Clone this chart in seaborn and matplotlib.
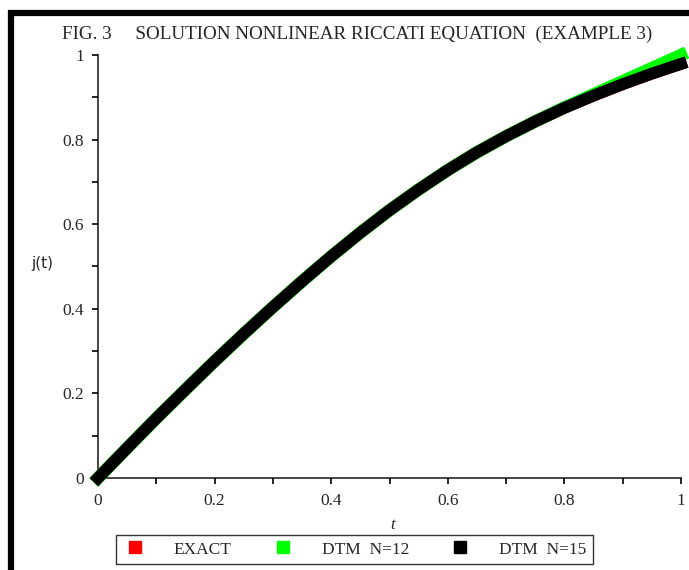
import matplotlib

matplotlib.use("Agg")

import matplotlib.pyplot as plt
import matplotlib.patches as patches
from matplotlib.lines import Line2D
from matplotlib.ticker import MultipleLocator
import seaborn as sns

# values
t = [0.0, 0.05, 0.1, 0.15, 0.2, 0.25, 0.3, 0.35, 0.4, 0.45, 0.5,
     0.55, 0.6, 0.65, 0.7, 0.75, 0.8, 0.85, 0.9, 0.95, 1.0]
exact = [0.0, 0.071, 0.141, 0.209, 0.276, 0.341, 0.404, 0.465, 0.524, 0.58, 0.633,
         0.682, 0.728, 0.77, 0.808, 0.843, 0.875, 0.904, 0.931, 0.956, 0.979]
dtm12 = [0.0, 0.071, 0.141, 0.209, 0.276, 0.341, 0.404, 0.465, 0.524, 0.58, 0.633,
         0.682, 0.728, 0.77, 0.808, 0.843, 0.876, 0.907, 0.938, 0.969, 1.0]
dtm15 = [0.0, 0.071, 0.141, 0.209, 0.276, 0.341, 0.404, 0.465, 0.524, 0.58, 0.633,
         0.682, 0.728, 0.77, 0.808, 0.843, 0.875, 0.904, 0.931, 0.956, 0.979]

labels = ["EXACT", "DTM  N=12", "DTM  N=15"]
colors = ["#ff0000", "#00ff00", "#000000"]

sns.set_style("ticks")
plt.rcParams["font.family"] = ["Liberation Serif", "DejaVu Serif"]

fig = plt.figure(figsize=(6.89, 5.70), dpi=100)
ax = fig.add_axes([98 / 689, 92 / 570, 583 / 689, 423 / 570])

for y, c, lw in zip([exact, dtm12, dtm15], colors, [8.5, 9.0, 8.5]):
    sns.lineplot(x=t, y=y, ax=ax, color=c, linewidth=lw, clip_on=False,
                 solid_capstyle="projecting", solid_joinstyle="round")

ax.set_xlim(0, 1)
ax.set_ylim(0, 1)
for s in ["top", "right"]:
    ax.spines[s].set_visible(False)
for s in ["left", "bottom"]:
    ax.spines[s].set_linewidth(1.2)
    ax.spines[s].set_zorder(0)

ax.xaxis.set_major_locator(MultipleLocator(0.2))
ax.xaxis.set_minor_locator(MultipleLocator(0.1))
ax.yaxis.set_major_locator(MultipleLocator(0.2))
ax.yaxis.set_minor_locator(MultipleLocator(0.1))
ax.tick_params(which="both", direction="out", length=4, width=1.2, color="black")
ax.tick_params(axis="x", which="major", pad=7, labelsize=12.5)
ax.tick_params(axis="y", which="major", pad=6, labelsize=12.5)


def fmt(v, p):
    v = round(v, 3)
    if v == 0:
        return "0"
    if v == 1:
        return "1"
    return f"{v:.1f}"


ax.xaxis.set_major_formatter(fmt)
ax.yaxis.set_major_formatter(fmt)

ax.set_xlabel("t", fontsize=12, style="italic")
ax.xaxis.set_label_coords(0.505, -0.092)
ax.set_ylabel("j(t)", fontsize=11, rotation=0, family="DejaVu Sans")
ax.yaxis.set_label_coords(-0.096, 0.49)

fig.text(0.518, 0.939, "FIG. 3     SOLUTION NONLINEAR RICCATI EQUATION  (EXAMPLE 3)",
         ha="center", va="center", fontsize=13.8)

handles = [Line2D([], [], marker="s", linestyle="none", markersize=8,
                  markerfacecolor=c, markeredgecolor=c) for c in colors]
leg = fig.legend(handles, labels, loc="center", bbox_to_anchor=(0.514, 0.036),
                 ncol=3, frameon=True, fancybox=False, fontsize=12.5,
                 handletextpad=1.5, columnspacing=2.2, borderpad=0.35,
                 handlelength=1.5)
leg.get_frame().set_edgecolor("black")
leg.get_frame().set_linewidth(1.0)

# thick page frame on the top and left edges
fig.patches.append(patches.Rectangle((11 / 689, -0.2), 1.2, 1.2 - 13 / 570,
                                     transform=fig.transFigure, fill=False,
                                     edgecolor="black", linewidth=4.5))

fig.savefig("out.png", dpi=100)
